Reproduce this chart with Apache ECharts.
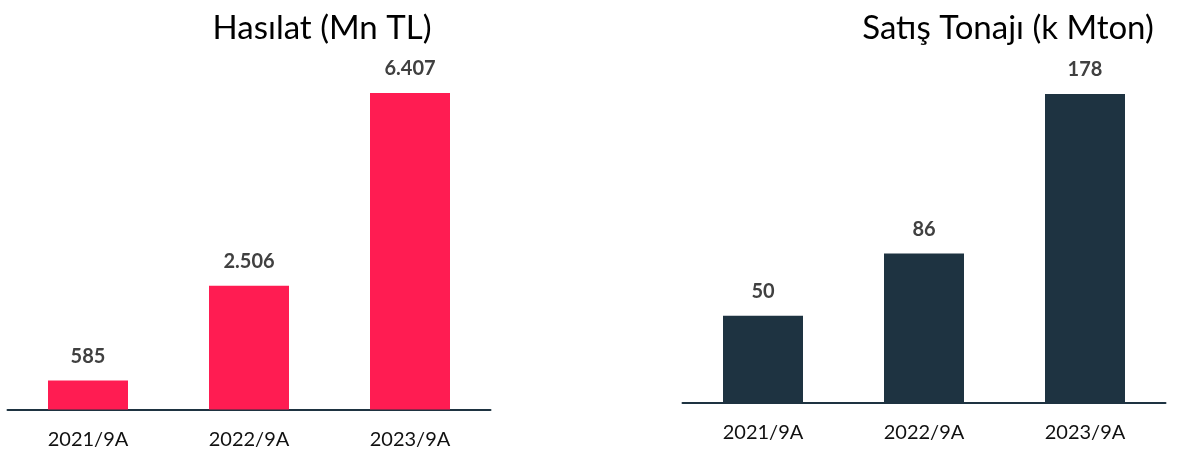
<!DOCTYPE html>
<html>
<head>
<meta charset="utf-8">
<script src="https://cdn.jsdelivr.net/npm/echarts@6/dist/echarts.min.js"></script>
<style>
  html, body { margin: 0; padding: 0; background: #fff; }
  #chart { width: 1180px; height: 456px; }
</style>
</head>
<body>
<div id="chart"></div>
<script>
const categories = ['2021/9A', '2022/9A', '2023/9A'];
const revenue = [585, 2506, 6407];
const tonnage = [50, 86, 178];
const revenueTitle = 'Hasılat (Mn TL)';
const tonnageTitle = 'Satış Tonajı (k Mton)';

const FONT = 'Lato, "Open Sans", sans-serif';

// 6407 -> "6.407"
const fmtTr = (v) => v.toLocaleString('de-DE');

const chart = echarts.init(document.getElementById('chart'));

function xAxisFor(gridIndex) {
    return {
        type: 'category',
        gridIndex,
        data: categories,
        axisLine: { lineStyle: { color: '#1E3341', width: 2 } },
        axisTick: { show: false },
        axisLabel: { color: '#111', fontSize: 20, fontFamily: FONT, margin: 20 },
    };
}

function yAxisFor(gridIndex, max) {
    return {
        type: 'value',
        gridIndex,
        min: 0,
        max,
        show: false,
        splitLine: { show: false },
    };
}

chart.setOption({
    animation: false,
    title: [
        {
            text: revenueTitle,
            left: 317,
            top: 7,
            textAlign: 'center',
            textStyle: { fontSize: 33, fontWeight: 'normal', color: '#000', fontFamily: FONT },
        },
        {
            text: tonnageTitle,
            left: 1003,
            top: 7,
            textAlign: 'center',
            textStyle: { fontSize: 33, fontWeight: 'normal', color: '#000', fontFamily: FONT },
        },
    ],
    grid: [
        { left: 7.5, top: 93, width: 483, height: 316.5 },
        { left: 682.5, top: 94, width: 483, height: 308.5 },
    ],
    xAxis: [xAxisFor(0), xAxisFor(1)],
    yAxis: [yAxisFor(0, 6407), yAxisFor(1, 178)],
    series: [
        {
            type: 'bar',
            xAxisIndex: 0,
            yAxisIndex: 0,
            data: revenue,
            barWidth: 80,
            itemStyle: { color: '#FF1C52' },
            label: {
                show: true,
                position: 'top',
                distance: 14,
                formatter: (p) => fmtTr(p.value),
                color: '#404040',
                fontSize: 20,
                fontWeight: 'bold',
                fontFamily: FONT,
            },
        },
        {
            type: 'bar',
            xAxisIndex: 1,
            yAxisIndex: 1,
            data: tonnage,
            barWidth: 80,
            itemStyle: { color: '#1E3341' },
            label: {
                show: true,
                position: 'top',
                distance: 14,
                color: '#404040',
                fontSize: 20,
                fontWeight: 'bold',
                fontFamily: FONT,
            },
        },
    ],
});
</script>
</body>
</html>
